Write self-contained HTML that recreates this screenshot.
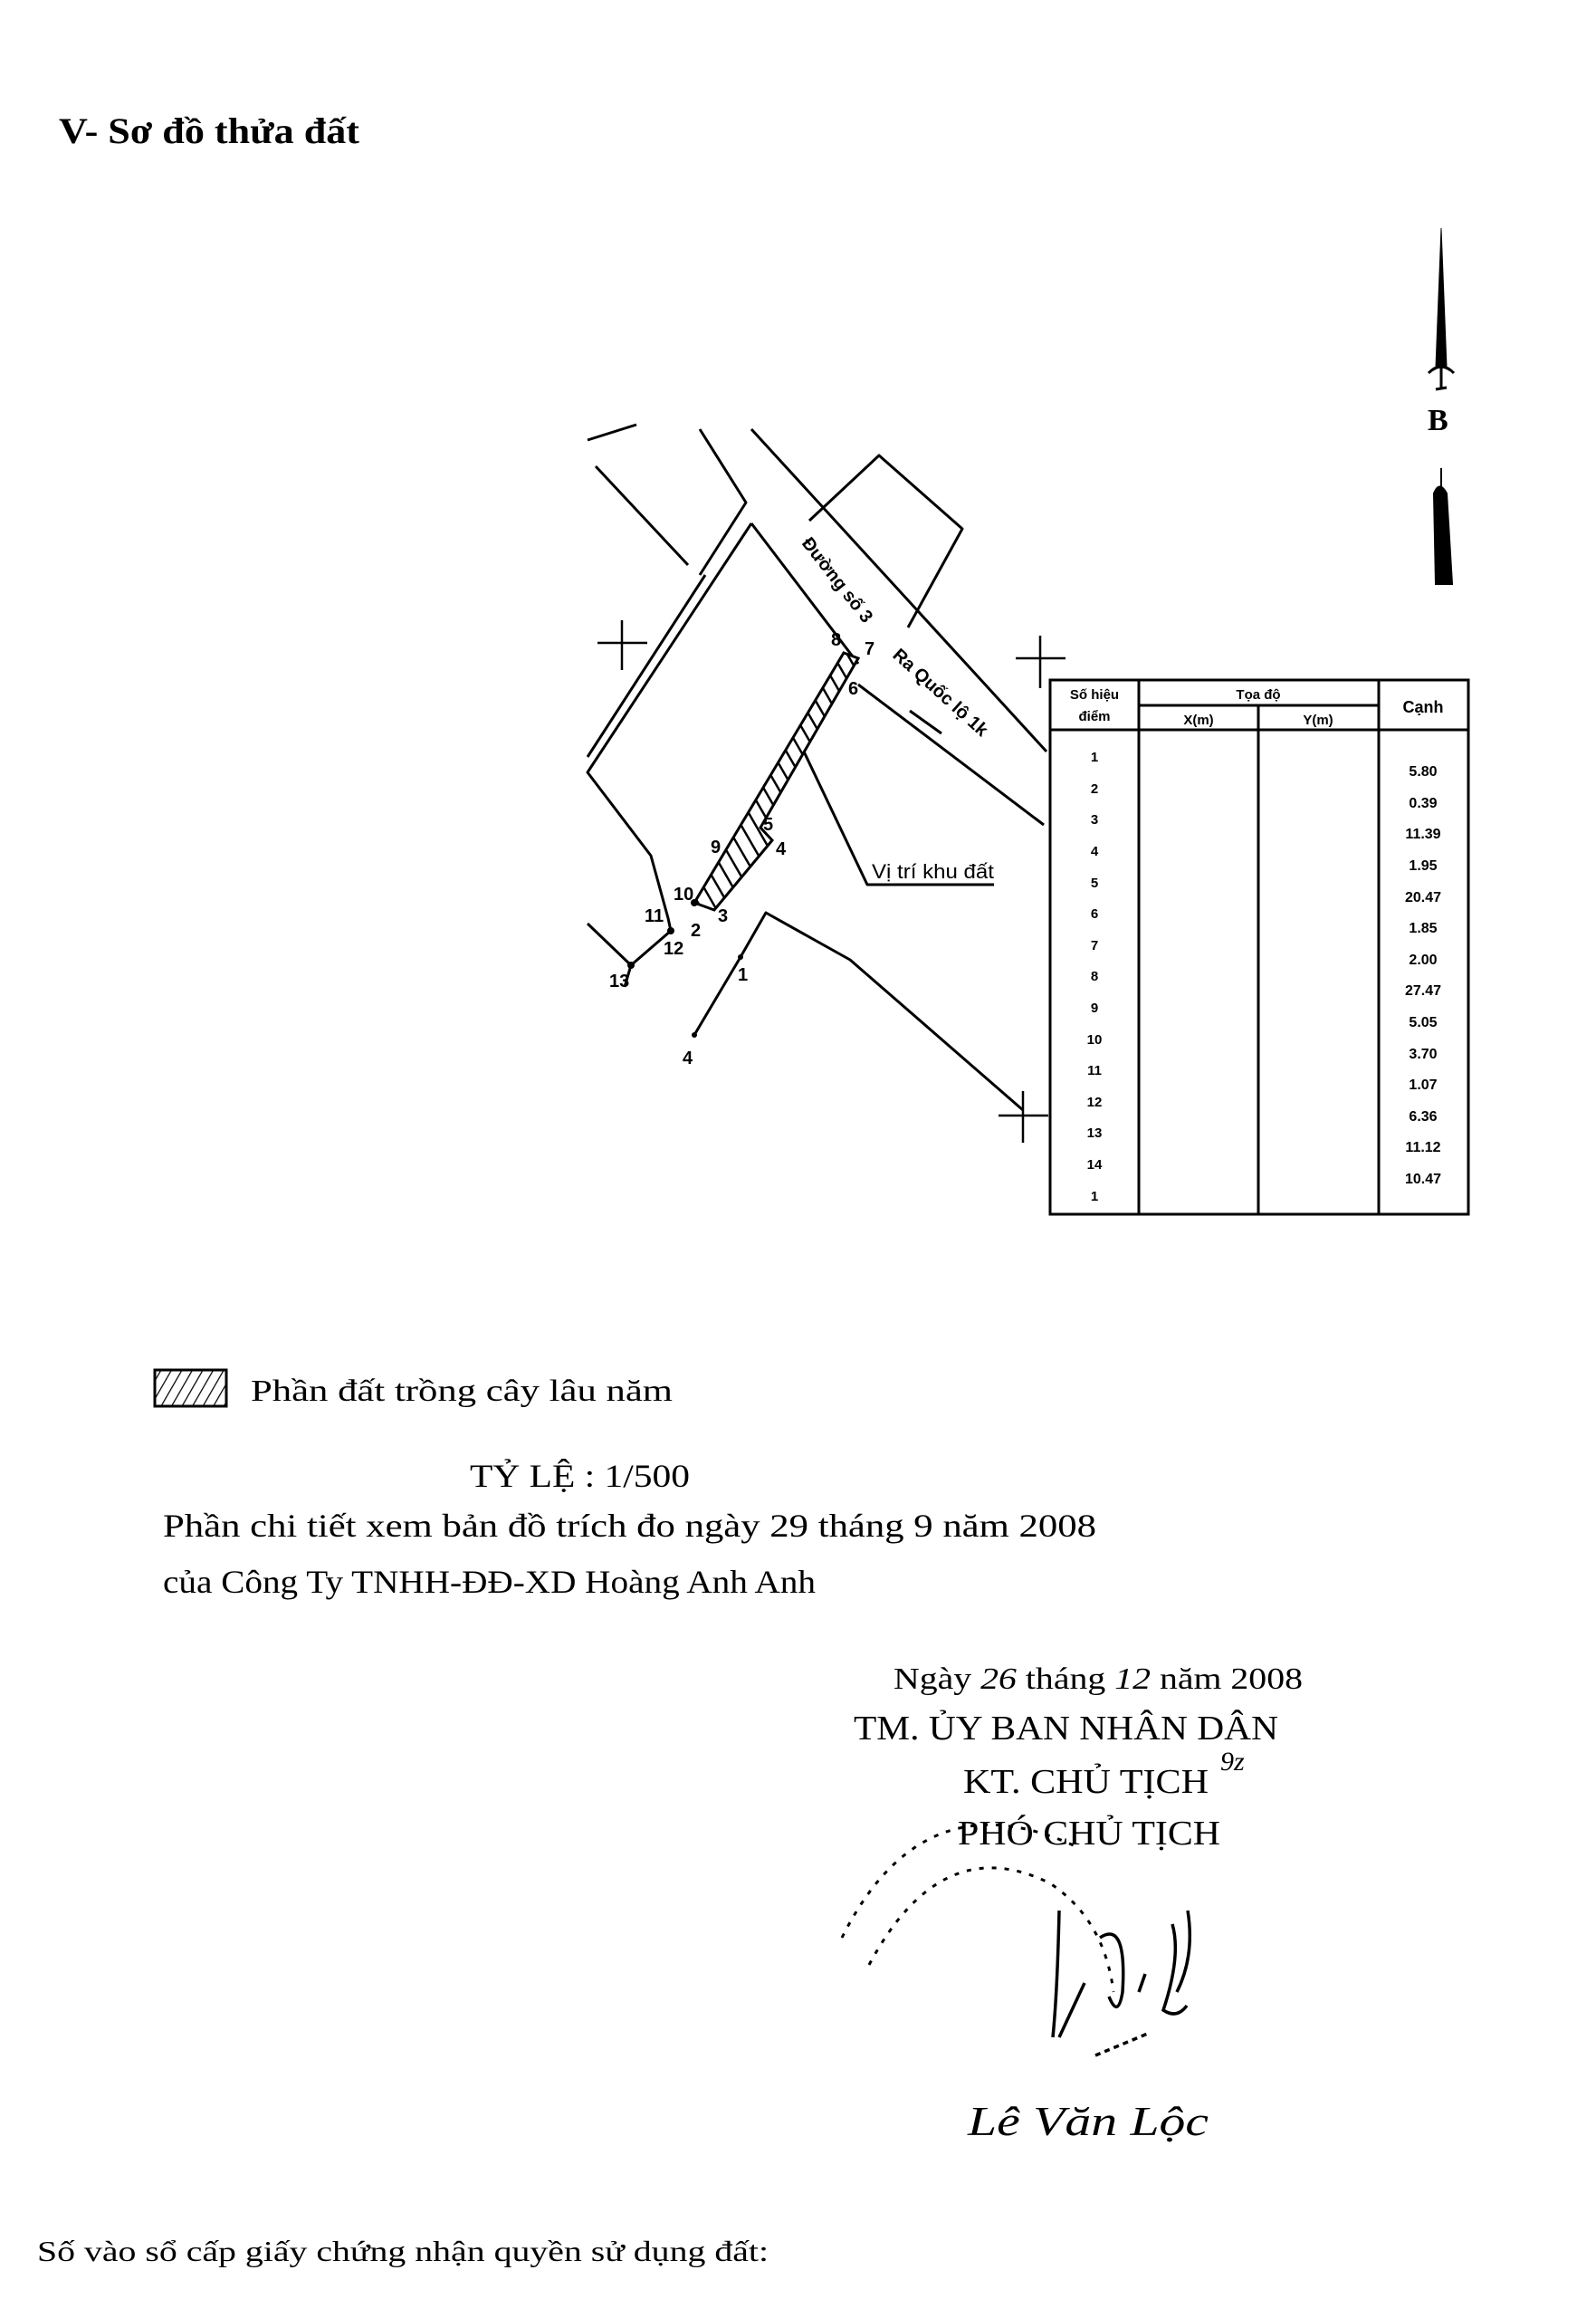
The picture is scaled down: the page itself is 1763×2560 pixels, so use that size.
<!DOCTYPE html>
<html><head><meta charset="utf-8"><style>
html,body{margin:0;padding:0;background:#fff}
svg{display:block}
</style></head><body>
<svg width="1763" height="2560" viewBox="0 0 1763 2560" xmlns="http://www.w3.org/2000/svg">
<defs>
<pattern id="h" patternUnits="userSpaceOnUse" width="14" height="14" patternTransform="rotate(-30)">
<rect width="14" height="14" fill="#fff"/><line x1="0" y1="0" x2="0" y2="14" stroke="#000" stroke-width="5"/></pattern>
<pattern id="h2" patternUnits="userSpaceOnUse" width="10" height="10" patternTransform="rotate(30)">
<rect width="10" height="10" fill="#fff"/><line x1="0" y1="0" x2="0" y2="10" stroke="#000" stroke-width="2.5"/></pattern>
</defs>
<rect width="1763" height="2560" fill="#fff"/>
<g font-family="Liberation Serif, serif" fill="#000">
<text x="65" y="158" font-size="40" font-weight="bold" textLength="332" lengthAdjust="spacingAndGlyphs">V- Sơ đồ thửa đất</text>
</g>

<g stroke="#000" fill="#000">
<polygon points="1592,252 1586,405 1598,405" />
<path d="M1578,412 Q1592,398 1606,412" fill="none" stroke-width="3"/>
<line x1="1592" y1="405" x2="1592" y2="430" stroke-width="3"/>
<line x1="1586" y1="430" x2="1598" y2="428" stroke-width="3"/>
<text x="1577" y="475" font-family="Liberation Serif, serif" font-size="34" font-weight="bold" stroke="none">B</text>
<path d="M1592,517 L1592,540 M1584,545 Q1590,530 1598,545 L1604,645 L1586,645 Z" stroke-width="2"/>
</g>

<g stroke="#000" stroke-width="3" fill="none" stroke-linejoin="round">
<line x1="830" y1="474" x2="1156" y2="830"/>
<polyline points="830,578 948,733"/>
<line x1="948" y1="756" x2="1153" y2="911"/>
<polyline points="830,578 649,853 719,945 738,1014 741,1028 697,1066 649,1020"/>
<line x1="779" y1="635" x2="649" y2="836"/>
<line x1="658" y1="515" x2="760" y2="624"/>
<line x1="649" y1="486" x2="703" y2="469"/>
<polyline points="773,474 824,555 773,635"/>
<polyline points="894,575 971,503 1063,584 1003,693"/>
<polyline points="888,830 958,977 1098,977"/>
<polyline points="767,1143 818,1057 846,1008 939,1060 1130,1226"/>
<line x1="697" y1="1066" x2="690" y2="1090"/>
</g>
<polygon points="932,721 948,727 840,914 853,928 789,1005 767,997" fill="url(#h)" stroke="#000" stroke-width="3"/>
<g stroke="#000" stroke-width="2.5">
<line x1="660" y1="710" x2="715" y2="710"/><line x1="687" y1="685" x2="687" y2="740"/>
<line x1="1122" y1="727" x2="1177" y2="727"/><line x1="1149" y1="702" x2="1149" y2="760"/>
<line x1="1103" y1="1232" x2="1158" y2="1232"/><line x1="1130" y1="1205" x2="1130" y2="1262"/>
</g>
<g fill="#000">
<circle cx="767" cy="997" r="4"/><circle cx="741" cy="1028" r="4"/><circle cx="697" cy="1066" r="4"/><circle cx="818" cy="1057" r="3"/><circle cx="767" cy="1143" r="3"/>
</g>
<g font-family="Liberation Sans, sans-serif" font-size="20" font-weight="bold" fill="#000">
<text transform="translate(885,600) rotate(52)">Đường số 3</text>
<text transform="translate(985,725) rotate(42)">Ra Quốc lộ 1k</text>
<line x1="1005" y1="785" x2="1040" y2="810" stroke="#000" stroke-width="3"/>
<text x="918" y="713">8</text><text x="955" y="723">7</text><text x="937" y="767">6</text>
<text x="843" y="917">5</text><text x="857" y="944">4</text><text x="785" y="942">9</text>
<text x="744" y="994">10</text><text x="712" y="1018">11</text><text x="733" y="1054">12</text>
<text x="673" y="1090">13</text><text x="763" y="1034">2</text><text x="793" y="1018">3</text>
<text x="815" y="1083">1</text><text x="754" y="1175">4</text>
<text x="963" y="970" font-weight="normal" font-size="22" textLength="135" lengthAdjust="spacingAndGlyphs">Vị trí khu đất</text>
</g>

<g stroke="#000" stroke-width="3" fill="none">
<rect x="1160" y="751" width="462" height="590"/>
<line x1="1258" y1="751" x2="1258" y2="1341"/>
<line x1="1390" y1="779" x2="1390" y2="1341"/>
<line x1="1523" y1="751" x2="1523" y2="1341"/>
<line x1="1258" y1="779" x2="1523" y2="779"/>
<line x1="1160" y1="806" x2="1622" y2="806"/>
</g>
<g font-family="Liberation Sans, sans-serif" font-weight="bold" font-size="15" fill="#000" text-anchor="middle">
<text x="1209" y="772">Số hiệu</text><text x="1209" y="796">điểm</text>
<text x="1390" y="772">Tọa độ</text><text x="1324" y="800">X(m)</text><text x="1456" y="800">Y(m)</text>
<text x="1572" y="787" font-size="18">Cạnh</text>
<text x="1209" y="841">1</text><text x="1209" y="876">2</text><text x="1209" y="910">3</text><text x="1209" y="945">4</text><text x="1209" y="980">5</text>
<text x="1209" y="1014">6</text><text x="1209" y="1049">7</text><text x="1209" y="1083">8</text><text x="1209" y="1118">9</text><text x="1209" y="1153">10</text>
<text x="1209" y="1187">11</text><text x="1209" y="1222">12</text><text x="1209" y="1256">13</text><text x="1209" y="1291">14</text><text x="1209" y="1326">1</text>
<g font-size="16">
<text x="1572" y="857">5.80</text><text x="1572" y="892">0.39</text><text x="1572" y="926">11.39</text><text x="1572" y="961">1.95</text>
<text x="1572" y="996">20.47</text><text x="1572" y="1030">1.85</text><text x="1572" y="1065">2.00</text><text x="1572" y="1099">27.47</text>
<text x="1572" y="1134">5.05</text><text x="1572" y="1169">3.70</text><text x="1572" y="1203">1.07</text><text x="1572" y="1238">6.36</text>
<text x="1572" y="1272">11.12</text><text x="1572" y="1307">10.47</text>
</g>
</g>

<rect x="171" y="1513" width="79" height="40" fill="url(#h2)" stroke="#000" stroke-width="3"/>
<g font-family="Liberation Serif, serif" fill="#000">
<text x="277" y="1547" font-size="34" textLength="466" lengthAdjust="spacingAndGlyphs">Phần đất trồng cây lâu năm</text>
<text x="519" y="1642" font-size="36" textLength="243" lengthAdjust="spacingAndGlyphs">TỶ LỆ : 1/500</text>
<text x="180" y="1697" font-size="36" textLength="1031" lengthAdjust="spacingAndGlyphs">Phần chi tiết xem bản đồ trích đo  ngày 29 tháng 9 năm 2008</text>
<text x="180" y="1759" font-size="36" textLength="721" lengthAdjust="spacingAndGlyphs">của Công Ty TNHH-ĐĐ-XD Hoàng Anh Anh</text>
<text x="987" y="1865" font-size="34" textLength="452" lengthAdjust="spacingAndGlyphs">Ngày <tspan font-style="italic">26</tspan> tháng <tspan font-style="italic">12</tspan> năm 2008</text>
<text x="943" y="1921" font-size="38" textLength="469" lengthAdjust="spacingAndGlyphs">TM. ỦY BAN NHÂN DÂN</text>
<text x="1064" y="1980" font-size="38" textLength="271" lengthAdjust="spacingAndGlyphs">KT. CHỦ TỊCH</text>
<text x="1348" y="1955" font-size="30" font-style="italic">9z</text>
<text x="1058" y="2037" font-size="38" textLength="290" lengthAdjust="spacingAndGlyphs">PHÓ CHỦ TỊCH</text>
<text x="1069" y="2358" font-size="46" font-style="italic" textLength="266" lengthAdjust="spacingAndGlyphs">Lê Văn Lộc</text>
<text x="41" y="2497" font-size="32" textLength="808" lengthAdjust="spacingAndGlyphs">Số vào sổ cấp giấy chứng nhận quyền sử dụng đất:</text>
</g>
<g fill="none" stroke="#000" stroke-width="3" stroke-dasharray="5 9">
<path d="M960,2170 Q1040,2020 1160,2080 Q1220,2120 1230,2200"/>
<path d="M930,2140 Q1020,1960 1190,2040"/>
</g>
<g fill="none" stroke="#000" stroke-width="3.5">
<path d="M1170,2110 Q1168,2200 1163,2250 M1170,2250 L1198,2190 M1215,2140 Q1245,2120 1240,2200 Q1235,2230 1225,2205 M1258,2200 L1265,2180 M1295,2125 Q1305,2160 1285,2220 Q1300,2230 1311,2215 M1312,2110 Q1320,2160 1300,2200"/>
<path d="M1210,2270 L1270,2245" stroke-dasharray="6 5"/>
</g>
</svg>
</body></html>
